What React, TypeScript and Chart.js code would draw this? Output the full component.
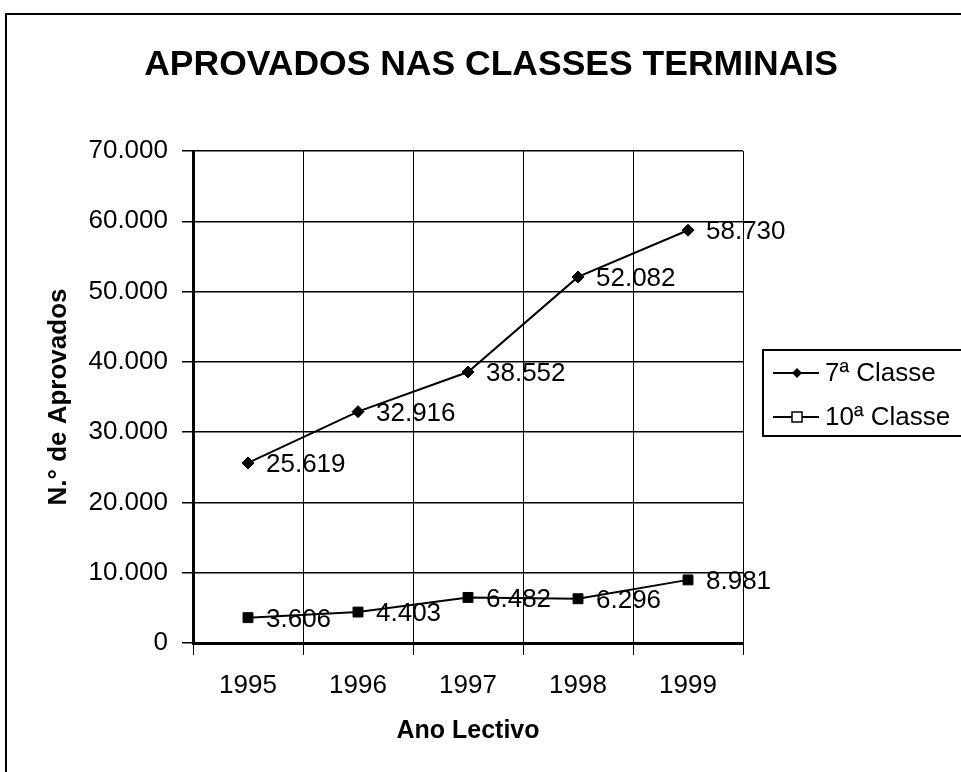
import React, { useEffect, useRef } from 'react';
import { Chart, registerables } from 'chart.js';

Chart.register(...registerables);

const chartTitle = 'APROVADOS NAS CLASSES TERMINAIS';
const xAxisTitle = 'Ano Lectivo';
const yAxisTitle = 'N.° de Aprovados';
const categories = ['1995', '1996', '1997', '1998', '1999'];
const seriesNames = ['7ª Classe', '10ª Classe'];
const classe7 = [25619, 32916, 38552, 52082, 58730];
const classe10 = [3606, 4403, 6482, 6296, 8981];
const yMin = 0;
const yMax = 70000;
const yStep = 10000;

const FONT = '"Liberation Sans", Arial, Helvetica, sans-serif';

const fmt = (v: number) => String(Math.round(v)).replace(/\B(?=(\d{3})+(?!\d))/g, '.');

const framePlugin = {
  id: 'frame',
  beforeDraw(chart: any) {
    const { ctx, width, height } = chart;
    ctx.save();
    ctx.fillStyle = '#fff';
    ctx.fillRect(0, 0, width, height);
    ctx.strokeStyle = '#000';
    ctx.lineWidth = 2;
    ctx.beginPath();
    ctx.moveTo(6, height + 2);
    ctx.lineTo(6, 14);
    ctx.lineTo(width + 2, 14);
    ctx.stroke();
    ctx.restore();
  },
};

const titlePlugin = {
  id: 'customTitle',
  afterDraw(chart: any) {
    const { ctx } = chart;
    ctx.save();
    ctx.fillStyle = '#000';
    ctx.font = `bold 35.5px ${FONT}`;
    ctx.textAlign = 'center';
    ctx.textBaseline = 'middle';
    ctx.fillText(chartTitle, 491, 65);
    ctx.restore();
  },
};

const dataLabelPlugin = {
  id: 'dataLabels',
  afterDatasetsDraw(chart: any) {
    const { ctx } = chart;
    ctx.save();
    ctx.fillStyle = '#000';
    ctx.font = `26px ${FONT}`;
    ctx.textAlign = 'left';
    ctx.textBaseline = 'middle';
    chart.data.datasets.forEach((ds: any, i: number) => {
      const meta = chart.getDatasetMeta(i);
      meta.data.forEach((pt: any, j: number) => {
        ctx.fillText(fmt(ds.data[j]), pt.x + 18, pt.y + 2);
      });
    });
    ctx.restore();
  },
};

const legendPlugin = {
  id: 'customLegend',
  afterDraw(chart: any) {
    const { ctx, chartArea } = chart;
    const left = chartArea.right + 20;
    const top = 350;
    const bottom = 436;
    ctx.save();
    ctx.strokeStyle = '#000';
    ctx.lineWidth = 2;
    ctx.strokeRect(left, top, chart.width + 20 - left, bottom - top);
    const rows = [top + 23, top + 67];
    rows.forEach((y, i) => {
      ctx.lineWidth = 2;
      ctx.beginPath();
      ctx.moveTo(left + 10, y);
      ctx.lineTo(left + 56, y);
      ctx.stroke();
      const mx = left + 34;
      if (i === 0) {
        ctx.fillStyle = '#000';
        ctx.beginPath();
        ctx.moveTo(mx - 5, y);
        ctx.lineTo(mx, y - 5);
        ctx.lineTo(mx + 5, y);
        ctx.lineTo(mx, y + 5);
        ctx.closePath();
        ctx.fill();
      } else {
        ctx.fillStyle = '#fff';
        ctx.fillRect(mx - 5, y - 5, 10, 10);
        ctx.lineWidth = 1.5;
        ctx.strokeRect(mx - 5, y - 5, 10, 10);
      }
      ctx.fillStyle = '#000';
      ctx.font = `26px ${FONT}`;
      ctx.textAlign = 'left';
      ctx.textBaseline = 'middle';
      ctx.fillText(seriesNames[i], left + 62, y + 1);
    });
    ctx.restore();
  },
};

export default function App() {
  const canvasRef = useRef<HTMLCanvasElement | null>(null);

  useEffect(() => {
    document.body.style.margin = '0';
    const canvas = canvasRef.current;
    if (!canvas) return;
    const chart = new Chart(canvas, {
      type: 'line',
      data: {
        labels: categories,
        datasets: [
          {
            label: seriesNames[0],
            data: classe7,
            borderColor: '#000',
            backgroundColor: '#000',
            borderWidth: 2,
            pointStyle: 'rectRot',
            pointRadius: 6,
            pointBackgroundColor: '#000',
            pointBorderColor: '#000',
            pointBorderWidth: 1,
            tension: 0,
            clip: false,
          },
          {
            label: seriesNames[1],
            data: classe10,
            borderColor: '#000',
            backgroundColor: '#000',
            borderWidth: 2,
            pointStyle: 'rect',
            pointRadius: 7,
            pointBackgroundColor: '#000',
            pointBorderColor: '#000',
            pointBorderWidth: 1,
            tension: 0,
            clip: false,
          },
        ],
      },
      options: {
        responsive: false,
        animation: false,
        events: [],
        layout: { padding: { left: 43, top: 151, right: 218, bottom: 26 } },
        plugins: {
          legend: { display: false },
          title: { display: false },
          tooltip: { enabled: false },
        },
        scales: {
          x: {
            type: 'category',
            offset: true,
            grid: { offset: true, color: '#000', lineWidth: 1, tickLength: 12, drawTicks: true },
            border: { color: '#000', width: 3 },
            ticks: { color: '#000', font: { family: FONT, size: 26 }, padding: 15, maxRotation: 0 },
            title: {
              display: true,
              text: xAxisTitle,
              color: '#000',
              font: { family: FONT, size: 25, weight: 'bold' },
              padding: { top: 15, bottom: 0 },
            },
            afterFit(scale: any) {
              scale.height = 103;
            },
          },
          y: {
            min: yMin,
            max: yMax,
            ticks: {
              stepSize: yStep,
              color: '#000',
              font: { family: FONT, size: 26 },
              padding: 14,
              callback: (v: any) => fmt(Number(v)),
            },
            grid: { color: '#000', lineWidth: 1.5, tickLength: 11 },
            border: { color: '#000', width: 3 },
            title: {
              display: true,
              text: yAxisTitle,
              color: '#000',
              font: { family: FONT, size: 26, weight: 'bold' },
              padding: { top: 0, bottom: 0 },
            },
            afterFit(scale: any) {
              scale.width = 150;
            },
          },
        },
      },
      plugins: [framePlugin, titlePlugin, dataLabelPlugin, legendPlugin],
    } as any);
    return () => chart.destroy();
  }, []);

  return (
    <div style={{ width: 961, height: 772 }}>
      <canvas ref={canvasRef} width={961} height={772} style={{ display: 'block' }} />
    </div>
  );
}
